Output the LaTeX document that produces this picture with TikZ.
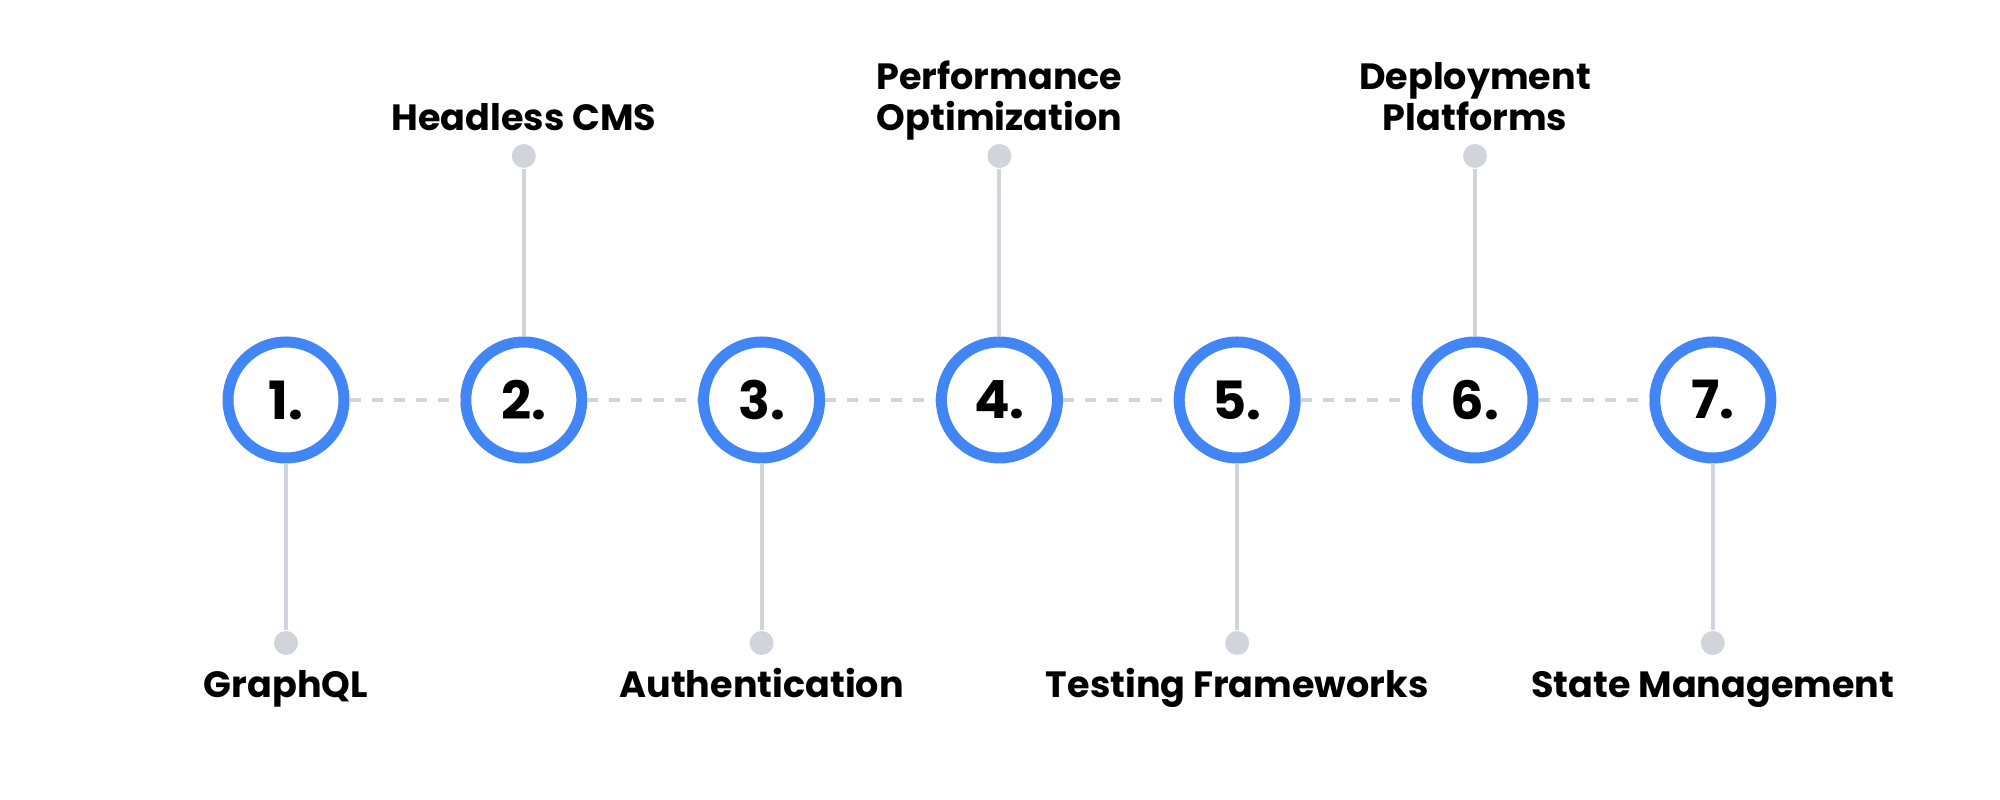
\documentclass[tikz,border=0pt]{standalone}
\usepackage{fontspec}
\setmainfont{Poppins}
\usetikzlibrary{positioning}
\definecolor{stepblue}{HTML}{4285F4}
\definecolor{linegray}{HTML}{D1D5DB}
\tikzset{stepcirc/.style={draw=stepblue, line width=0.11cm, circle, minimum size=1.16cm, inner sep=0pt, fill=white, font=\fontsize{15}{15}\selectfont\bfseries}}
\tikzset{pin/.style={circle, fill=linegray, minimum size=0.24cm, inner sep=0pt}}
\tikzset{dashline/.style={draw=linegray, line width=0.04cm, dash pattern=on 0.11cm off 0.11cm}}
\tikzset{stem/.style={draw=linegray, line width=0.04cm}}
\tikzset{toplbl/.style={anchor=south, align=center, inner sep=0pt, text depth=0pt, font=\fontsize{10.4}{11.6}\selectfont\bfseries}}
\tikzset{botlbl/.style={anchor=base, inner sep=0pt, font=\fontsize{10.4}{11.6}\selectfont\bfseries}}

\begin{document}
\begin{tikzpicture}[node distance=2.378cm]
\useasboundingbox (0,0) rectangle (20,8);

\node (c1) [stepcirc] at (2.86,4) {1.};
\node (c2) [stepcirc, right of=c1] {2.};
\node (c3) [stepcirc, right of=c2] {3.};
\node (c4) [stepcirc, right of=c3] {4.};
\node (c5) [stepcirc, right of=c4] {5.};
\node (c6) [stepcirc, right of=c5] {6.};
\node (c7) [stepcirc, right of=c6] {7.};

% pins above and below
\node (p1) [pin, node distance=2.43cm, below of=c1] {};
\node (p2) [pin, node distance=2.44cm, above of=c2] {};
\node (p3) [pin, node distance=2.43cm, below of=c3] {};
\node (p4) [pin, node distance=2.44cm, above of=c4] {};
\node (p5) [pin, node distance=2.43cm, below of=c5] {};
\node (p6) [pin, node distance=2.44cm, above of=c6] {};
\node (p7) [pin, node distance=2.43cm, below of=c7] {};

\node (t1) [botlbl] at ([yshift=-0.55cm]p1.center) {GraphQL};
\node (t2) [toplbl] at ([yshift=0.25cm]p2.center) {Headless CMS};
\node (t3) [botlbl] at ([yshift=-0.55cm]p3.center) {Authentication};
\node (t4) [toplbl] at ([yshift=0.25cm]p4.center) {Performance\\Optimization};
\node (t5) [botlbl] at ([yshift=-0.55cm]p5.center) {Testing Frameworks};
\node (t6) [toplbl] at ([yshift=0.25cm]p6.center) {Deployment\\Platforms};
\node (t7) [botlbl] at ([yshift=-0.55cm]p7.center) {State Management};

\draw[dashline] (c1) -- (c2);
\draw[dashline] (c2) -- (c3);
\draw[dashline] (c3) -- (c4);
\draw[dashline] (c4) -- (c5);
\draw[dashline] (c5) -- (c6);
\draw[dashline] (c6) -- (c7);

\draw[stem] (c1) -- (p1);
\draw[stem] (c2) -- (p2);
\draw[stem] (c3) -- (p3);
\draw[stem] (c4) -- (p4);
\draw[stem] (c5) -- (p5);
\draw[stem] (c6) -- (p6);
\draw[stem] (c7) -- (p7);
\end{tikzpicture}
\end{document}
